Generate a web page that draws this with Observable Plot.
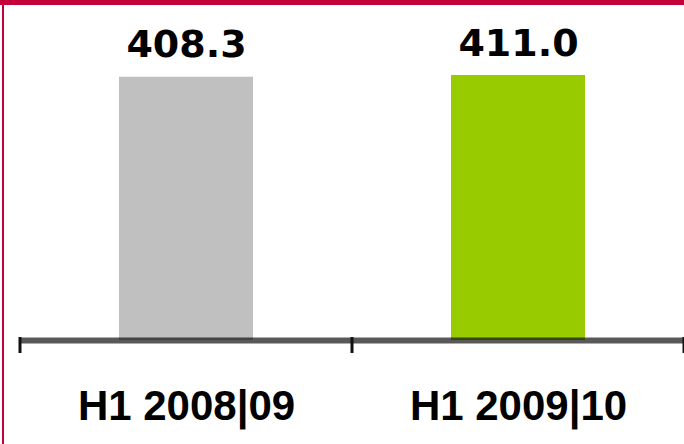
<!DOCTYPE html>
<html><head><meta charset="utf-8">
<script src="https://cdn.jsdelivr.net/npm/d3@7"></script>
<script src="https://cdn.jsdelivr.net/npm/@observablehq/plot@0.6"></script>
<style>
body{margin:0;background:#fff}
#wrap{position:relative;width:684px;height:444px;overflow:hidden}
#wrap .band{position:absolute;left:0;top:0;width:684px;height:5px;background:#c4003a}
#wrap .rule{position:absolute;left:2px;top:0;width:2px;height:444px;background:#c4003a}
#chart{position:absolute;left:0;top:0}
</style></head><body>
<div id="wrap"><div id="chart"></div><div class="band"></div><div class="rule"></div></div>
<script>
// Half-year comparison
const periods = ["H1 2008|09", "H1 2009|10"];
const values = [408.3, 411.0];
const colors = ["#c0c0c0", "#99cc00"];

const data = periods.map((p, i) => ({period: p, value: values[i], color: colors[i]}));

// tick marks at the boundaries between the period bands
const boundaryTicks = (index, scales, vals, dim) => {
  const g = d3.create("svg:g");
  const x0 = dim.marginLeft, x1 = dim.width - dim.marginRight;
  const n = periods.length;
  const y0 = scales.y(0);
  for (let i = 0; i <= n; i++) {
    const x = x0 + (x1 - x0) * i / n;
    g.append("line")
      .attr("x1", x).attr("x2", x)
      .attr("y1", y0 - 3).attr("y2", y0 + 13)
      .attr("stroke", "#111").attr("stroke-width", 3);
  }
  return g.node();
};

const chart = Plot.plot({
  width: 684,
  height: 444,
  marginTop: 75,
  marginBottom: 104,
  marginLeft: 20,
  marginRight: 0,
  style: {background: "transparent", color: "#000"},
  x: {domain: periods, paddingInner: 0.596, paddingOuter: 0.298},
  y: {domain: [0, 411], axis: null},
  color: {type: "identity"},
  marks: [
    Plot.barY(data, {x: "period", y: "value", fill: "color"}),
    Plot.ruleY([0], {stroke: "#000", strokeOpacity: 0.65, strokeWidth: 6}),
    boundaryTicks,
    Plot.text(data, {
      x: "period", y: "value", text: d => d.value.toFixed(1),
      dy: -20, lineAnchor: "bottom",
      fontSize: 38, fontWeight: "bold", fontFamily: "DejaVu Sans", fill: "#000"
    }),
    Plot.axisX({
      tickSize: 0, tickPadding: 50, label: null,
      fontSize: 42, fontWeight: "bold",
      fontFamily: "'Liberation Sans', Arial, sans-serif"
    })
  ]
});
document.getElementById("chart").append(chart);
</script>
</body></html>
